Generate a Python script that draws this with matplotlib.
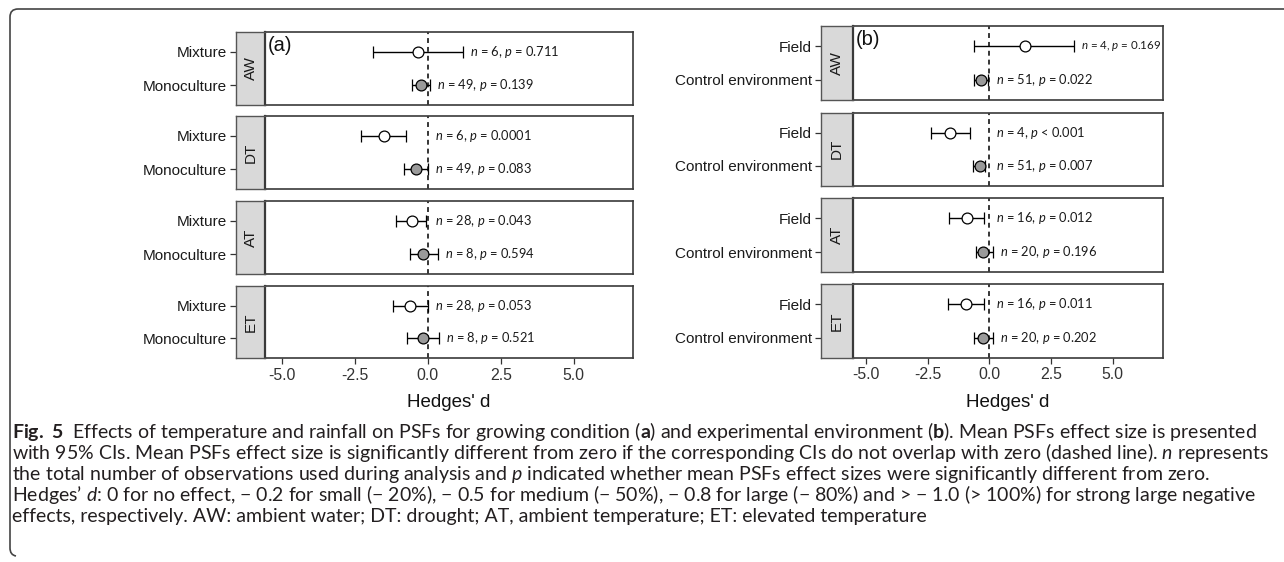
import matplotlib
matplotlib.use('Agg')
import matplotlib.pyplot as plt
from matplotlib.path import Path
from matplotlib.patches import PathPatch

plt.rcParams['font.family'] = ['Liberation Sans', 'DejaVu Sans']
plt.rcParams['mathtext.fontset'] = 'custom'
plt.rcParams['mathtext.rm'] = 'Lato'
plt.rcParams['mathtext.it'] = 'Lato:italic'
plt.rcParams['mathtext.bf'] = 'Lato:bold'

# ---------------- data ----------------
facets = ['AW', 'DT', 'AT', 'ET']
x_ticks = [-5.0, -2.5, 0.0, 2.5, 5.0]
x_tick_labels = ['-5.0', '-2.5', '0.0', '2.5', '5.0']
x_title = "Hedges' d"

# panel (a): growing condition
a_categories = ['Mixture', 'Monoculture']          # top, bottom
a_mean_mix = [-0.32, -1.50, -0.55, -0.61]
a_low_mix = [-1.86, -2.29, -1.10, -1.20]
a_high_mix = [1.22, -0.74, -0.06, 0.01]
a_n_mix = [6, 6, 28, 28]
a_p_mix = ['= 0.711', '= 0.0001', '= 0.043', '= 0.053']
a_mean_mono = [-0.24, -0.40, -0.15, -0.17]
a_low_mono = [-0.55, -0.81, -0.61, -0.70]
a_high_mono = [0.08, 0.02, 0.36, 0.39]
a_n_mono = [49, 49, 8, 8]
a_p_mono = ['= 0.139', '= 0.083', '= 0.594', '= 0.521']

# panel (b): experimental environment
b_categories = ['Field', 'Control environment']    # top, bottom
b_mean_field = [1.45, -1.59, -0.92, -0.94]
b_low_field = [-0.62, -2.38, -1.62, -1.66]
b_high_field = [3.43, -0.78, -0.20, -0.20]
b_n_field = [4, 4, 16, 16]
b_p_field = ['= 0.169', '< 0.001', '= 0.012', '= 0.011']
b_mean_ctrl = [-0.34, -0.40, -0.24, -0.24]
b_low_ctrl = [-0.62, -0.67, -0.55, -0.62]
b_high_ctrl = [-0.04, -0.17, 0.14, 0.14]
b_n_ctrl = [51, 51, 20, 20]
b_p_ctrl = ['= 0.022', '= 0.007', '= 0.196', '= 0.202']

caption_lines = [
    r"$\mathbf{Fig.\ 5}$  Effects of temperature and rainfall on PSFs for growing condition ($\mathbf{a}$) and experimental environment ($\mathbf{b}$). Mean PSFs effect size is presented",
    r"with 95% CIs. Mean PSFs effect size is significantly different from zero if the corresponding CIs do not overlap with zero (dashed line). $\mathit{n}$ represents",
    r"the total number of observations used during analysis and $\mathit{p}$ indicated whether mean PSFs effect sizes were significantly different from zero.",
    "Hedges\u2019 $\\mathit{d}$: 0 for no effect, \u2212 0.2 for small (\u2212 20%), \u2212 0.5 for medium (\u2212 50%), \u2212 0.8 for large (\u2212 80%) and > \u2212 1.0 (> 100%) for strong large negative",
    r"effects, respectively. AW: ambient water; DT: drought; AT, ambient temperature; ET: elevated temperature",
]

# ---------------- figure ----------------
W, H = 1284, 562
fig = plt.figure(figsize=(W / 100, H / 100), dpi=100)

EDGE = '#3a3a3a'
STRIP_FILL = '#d9d9d9'
FILL_GRAY = '#9a9a9a'

annotations = []


def fx(px):
    return px / W


def fy(py):
    return 1 - py / H


def draw_panel(x0, x1, strip_w, rows, xlim, cats, top, bottom, letter):
    axes = []
    for i, fac in enumerate(facets):
        yt, yb = rows[i]
        rect = [fx(x0), fy(yb), fx(x1) - fx(x0), fy(yt) - fy(yb)]
        ax = fig.add_axes(rect)
        sax = fig.add_axes([fx(x0 - strip_w), fy(yb), fx(x0) - fx(x0 - strip_w), fy(yt) - fy(yb)],
                           sharey=ax)
        ax.set_xlim(*xlim)
        ax.set_ylim(0.4, 2.6)
        ax.axvline(0, color='black', lw=1.1, ls=(0, (3.2, 2.6)), zorder=1)
        for ypos, (mean, low, high, n, p), face in (
                (2, (top[0][i], top[1][i], top[2][i], top[3][i], top[4][i]), 'white'),
                (1, (bottom[0][i], bottom[1][i], bottom[2][i], bottom[3][i], bottom[4][i]), FILL_GRAY)):
            ax.errorbar([mean], [ypos], xerr=[[mean - low], [high - mean]], fmt='o',
                        ms=7.8, mfc=face, mec='black', mew=0.9, ecolor='black',
                        elinewidth=1.0, capsize=4.0, capthick=1.0, zorder=3)
            t = ax.annotate(f"$n$ = {n}, $p$ {p}", xy=(max(high, 0), ypos),
                            xytext=(7, 0), textcoords='offset pixels',
                            ha='left', va='center', fontsize=9.3, family='Lato',
                            color='#1a1a1a')
            annotations.append((t, ax))
        for sp in ax.spines.values():
            sp.set_color(EDGE)
            sp.set_linewidth(1.2)
        ax.tick_params(left=False, labelleft=False)
        ax.set_xticks(x_ticks)
        if i == len(facets) - 1:
            ax.set_xticklabels(x_tick_labels)
            ax.tick_params(axis='x', length=4.5, width=0.9, color='#333333',
                           labelsize=11.4, labelcolor='#333333', pad=2.5)
        else:
            ax.tick_params(bottom=False, labelbottom=False)
        # strip
        sax.set_facecolor(STRIP_FILL)
        sax.set_xticks([])
        sax.set_yticks([1, 2])
        sax.set_yticklabels([cats[1], cats[0]])
        sax.tick_params(axis='y', length=4.5, width=0.9, color='#333333',
                        labelsize=11, labelcolor='#1a1a1a', pad=2)
        for sp in sax.spines.values():
            sp.set_color('#555555')
            sp.set_linewidth(1.0)
        sax.spines['right'].set_color(EDGE)
        sax.spines['right'].set_linewidth(1.6)
        sax.text(0.5, 0.5, fac, rotation=90, transform=sax.transAxes,
                 ha='center', va='center', fontsize=11, color='#1a1a1a')
        axes.append(ax)
    axes[0].annotate(letter, xy=(0, 1), xycoords='axes fraction', xytext=(3, -4),
                     textcoords='offset pixels', ha='left', va='top', fontsize=14.5,
                     color='#111111')
    fig.text(fx((x0 + x1) / 2), fy(402.5), x_title, ha='center', va='center',
             fontsize=13.5, color='#111111')
    return axes


draw_panel(265, 633, 29,
           [(32, 105), (116, 189), (201, 274), (286, 358)],
           (-5.57, 7.03), a_categories,
           (a_mean_mix, a_low_mix, a_high_mix, a_n_mix, a_p_mix),
           (a_mean_mono, a_low_mono, a_high_mono, a_n_mono, a_p_mono), '(a)')

draw_panel(852.7, 1163.3, 31.7,
           [(26, 100), (112.7, 185.7), (198.3, 272.3), (284, 357.7)],
           (-5.54, 7.05), b_categories,
           (b_mean_field, b_low_field, b_high_field, b_n_field, b_p_field),
           (b_mean_ctrl, b_low_ctrl, b_high_ctrl, b_n_ctrl, b_p_ctrl), '(b)')

# ---------------- caption ----------------
baselines = [438, 459, 480, 501, 521.7]
base_size = 13.0
texts = []
for line, yb in zip(caption_lines, baselines):
    t = fig.text(fx(12), fy(yb), line, ha='left', va='baseline', fontsize=base_size,
                 family='Lato', color='#231f20')
    texts.append(t)
fig.canvas.draw()
renderer = fig.canvas.get_renderer()
w1 = texts[0].get_window_extent(renderer).width
scale = 1238.0 / w1
for t in texts:
    t.set_fontsize(base_size * scale)

# shrink an annotation that would run past its panel edge (as in the reference)
for t, ax in annotations:
    bb = t.get_window_extent(renderer)
    right = ax.get_window_extent(renderer).x1 - 3
    if bb.x1 > right:
        t.set_fontsize(t.get_fontsize() * (right - bb.x0) / bb.width)

# ---------------- frame ----------------
r = 8
verts = [(W + 2, 9), (10 + r, 9), (10, 9), (10, 9 + r), (10, 548), (10, 555), (16, 556)]
codes = [Path.MOVETO, Path.LINETO, Path.CURVE3, Path.CURVE3, Path.LINETO, Path.CURVE3, Path.CURVE3]
verts_f = [(fx(x), fy(y)) for x, y in verts]
fig.add_artist(PathPatch(Path(verts_f, codes), transform=fig.transFigure,
                         fill=False, edgecolor='#444444', lw=1.2))

fig.savefig('out.png', dpi=100)
